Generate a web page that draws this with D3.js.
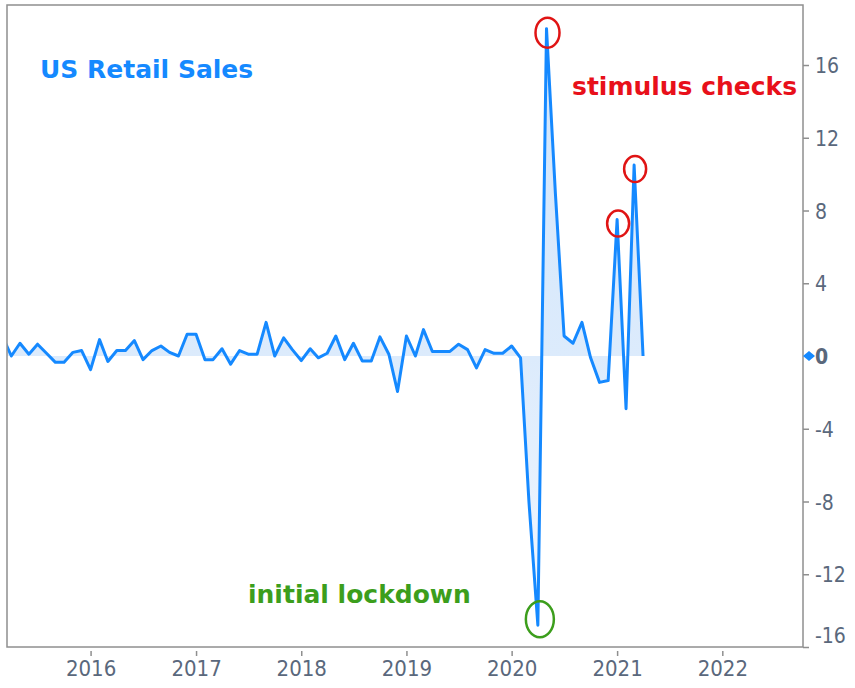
<!DOCTYPE html>
<html>
<head>
<meta charset="utf-8">
<script src="https://cdn.jsdelivr.net/npm/d3@7"></script>
<style>
body { margin:0; background:#fff; }
.tick text { font-family:'DejaVu Sans Condensed','DejaVu Sans',sans-serif; font-stretch:condensed; }
</style>
</head>
<body>
<div id="chart"></div>
<script>
// monthly % change
var months = ["2015-03","2015-04","2015-05","2015-06","2015-07","2015-08","2015-09","2015-10","2015-11","2015-12",
  "2016-01","2016-02","2016-03","2016-04","2016-05","2016-06","2016-07","2016-08","2016-09","2016-10","2016-11","2016-12",
  "2017-01","2017-02","2017-03","2017-04","2017-05","2017-06","2017-07","2017-08","2017-09","2017-10","2017-11","2017-12",
  "2018-01","2018-02","2018-03","2018-04","2018-05","2018-06","2018-07","2018-08","2018-09","2018-10","2018-11","2018-12",
  "2019-01","2019-02","2019-03","2019-04","2019-05","2019-06","2019-07","2019-08","2019-09","2019-10","2019-11","2019-12",
  "2020-01","2020-02","2020-03","2020-04","2020-05","2020-06","2020-07","2020-08","2020-09","2020-10","2020-11","2020-12",
  "2021-01","2021-02","2021-03","2021-04"];
var sales = [1.1,0.0,0.7,0.1,0.65,0.15,-0.35,-0.35,0.2,0.3,
  -0.75,0.9,-0.3,0.3,0.3,0.85,-0.2,0.3,0.55,0.2,0.0,1.2,
  1.2,-0.2,-0.2,0.4,-0.45,0.3,0.1,0.1,1.85,0.0,1.0,0.35,
  -0.25,0.4,-0.1,0.15,1.1,-0.2,0.7,-0.28,-0.28,1.05,0.1,-1.95,
  1.1,0.0,1.45,0.25,0.25,0.25,0.65,0.35,-0.65,0.35,0.15,0.15,
  0.55,-0.1,-8.0,-14.8,18.0,8.9,1.1,0.7,1.85,-0.1,-1.45,-1.35,
  7.5,-2.9,10.5,0.0];
var yTicks = [-16,-12,-8,-4,0,4,8,12,16];
var yearTicks = ["2016","2017","2018","2019","2020","2021","2022"];
var stimulusMonths = ["2020-05","2021-01","2021-03"];
var lockdownMonth = "2020-04";

var size = {width:855, height:688, left:7, top:5, right:803, bottom:647};
var parseMonth = d3.timeParse("%Y-%m");

function drawChart(){
  var data = months.map(function(m,i){ return {date:parseMonth(m), value:sales[i]}; });

  var svg = d3.select("#chart").append("svg")
      .attr("width", size.width)
      .attr("height", size.height)
      .style("font-family", "'DejaVu Sans', Verdana, sans-serif");

  var x = d3.scaleTime()
      .domain([new Date(2015,2,17), new Date(2022,9,8)])
      .range([size.left, size.right]);
  var y = d3.scaleLinear()
      .domain([-16, 19.3])
      .range([size.bottom, size.top]);

  var defs = svg.append("defs");
  defs.append("clipPath").attr("id","plotclip")
    .append("rect")
      .attr("x", size.left).attr("y", size.top)
      .attr("width", size.right - size.left)
      .attr("height", size.bottom - size.top);

  var grad = defs.append("linearGradient")
      .attr("id","fillgrad")
      .attr("gradientUnits","userSpaceOnUse")
      .attr("x1",0).attr("x2",0)
      .attr("y1", y(18)).attr("y2", y(-15));
  grad.append("stop").attr("offset","0%").attr("stop-color","#d3e6fb");
  grad.append("stop").attr("offset","55%").attr("stop-color","#dcebfc");
  grad.append("stop").attr("offset","100%").attr("stop-color","#f3f8ff");

  var plot = svg.append("g").attr("clip-path","url(#plotclip)");

  var area = d3.area()
      .x(function(d){ return x(d.date); })
      .y0(y(0))
      .y1(function(d){ return y(d.value); });
  var line = d3.line()
      .x(function(d){ return x(d.date); })
      .y(function(d){ return y(d.value); });

  plot.append("path")
      .datum(data)
      .attr("d", area)
      .attr("fill", "url(#fillgrad)");

  plot.append("path")
      .datum(data)
      .attr("d", line)
      .attr("fill", "none")
      .attr("stroke", "#1589ff")
      .attr("stroke-width", 3)
      .attr("stroke-linejoin", "round");

  // frame
  svg.append("rect")
      .attr("x", size.left).attr("y", size.top)
      .attr("width", size.right - size.left)
      .attr("height", size.bottom - size.top)
      .attr("fill","none")
      .attr("stroke","#8f8f8f")
      .attr("stroke-width",1.5);

  // right axis
  var yAxis = svg.append("g")
      .attr("transform","translate(" + size.right + ",0)")
      .call(d3.axisRight(y).tickValues(yTicks).tickSize(6).tickFormat(function(d){ return String(d); }));
  yAxis.select(".domain").remove();
  yAxis.selectAll(".tick line").attr("stroke","#8f8f8f").attr("stroke-width",1.5);
  yAxis.selectAll(".tick text")
      .attr("x", 12)
      .attr("fill","#5a687c")
      .style("font-size","21px")
      .attr("dy", function(d){ return d === -16 ? "-0.2em" : "0.36em"; })
      .style("font-weight", function(d){ return d === 0 ? "bold" : "normal"; });
  yAxis.selectAll(".tick").filter(function(d){ return d === 0; }).select("line").remove();

  var last = data[data.length-1];
  svg.append("path")
      .attr("d","M0,-5L6,0L0,5L-6,0Z")
      .attr("transform","translate(" + (size.right + 6) + "," + y(last.value) + ")")
      .attr("fill","#1589ff");

  // bottom axis
  var xAxis = svg.append("g")
      .attr("transform","translate(0," + size.bottom + ")")
      .call(d3.axisBottom(x).tickValues(yearTicks.map(function(t){ return new Date(+t,0,1); })).tickFormat(d3.timeFormat("%Y")));
  xAxis.select(".domain").remove();
  xAxis.selectAll(".tick line").attr("y1",4).attr("y2",9).attr("stroke","#8f8f8f").attr("stroke-width",1.5);
  xAxis.selectAll(".tick text")
      .attr("y", 29).attr("dy", null)
      .attr("fill","#5a687c")
      .style("font-size","22px");

  // annotations
  var byMonth = {};
  data.forEach(function(d,i){ byMonth[months[i]] = d; });

  svg.selectAll(".stim")
      .data(stimulusMonths)
      .enter().append("ellipse")
      .attr("class","stim")
      .attr("cx", function(m){ return x(byMonth[m].date) + 1; })
      .attr("cy", function(m){ return y(byMonth[m].value) + 4; })
      .attr("rx", function(m,i){ return i === 0 ? 12 : 11; })
      .attr("ry", function(m,i){ return i === 0 ? 15 : 13; })
      .attr("fill","none")
      .attr("stroke","#e01414")
      .attr("stroke-width",2.5);

  svg.append("ellipse")
      .attr("cx", x(byMonth[lockdownMonth].date) + 2)
      .attr("cy", y(byMonth[lockdownMonth].value) - 6)
      .attr("rx", 14).attr("ry", 18)
      .attr("fill","none")
      .attr("stroke","#3c9e1c")
      .attr("stroke-width",2.5);

  svg.append("text")
      .attr("x", 40).attr("y", 78)
      .attr("fill","#1589ff")
      .style("font-size","25px").style("font-weight","bold")
      .text("US Retail Sales");
  svg.append("text")
      .attr("x", 572).attr("y", 95)
      .attr("fill","#e8101a")
      .style("font-size","25px").style("font-weight","bold")
      .text("stimulus checks");
  svg.append("text")
      .attr("x", 248).attr("y", 603)
      .attr("fill","#3c9e1c")
      .style("font-size","25px").style("font-weight","bold")
      .text("initial lockdown");
}

drawChart();
</script>
</body>
</html>
